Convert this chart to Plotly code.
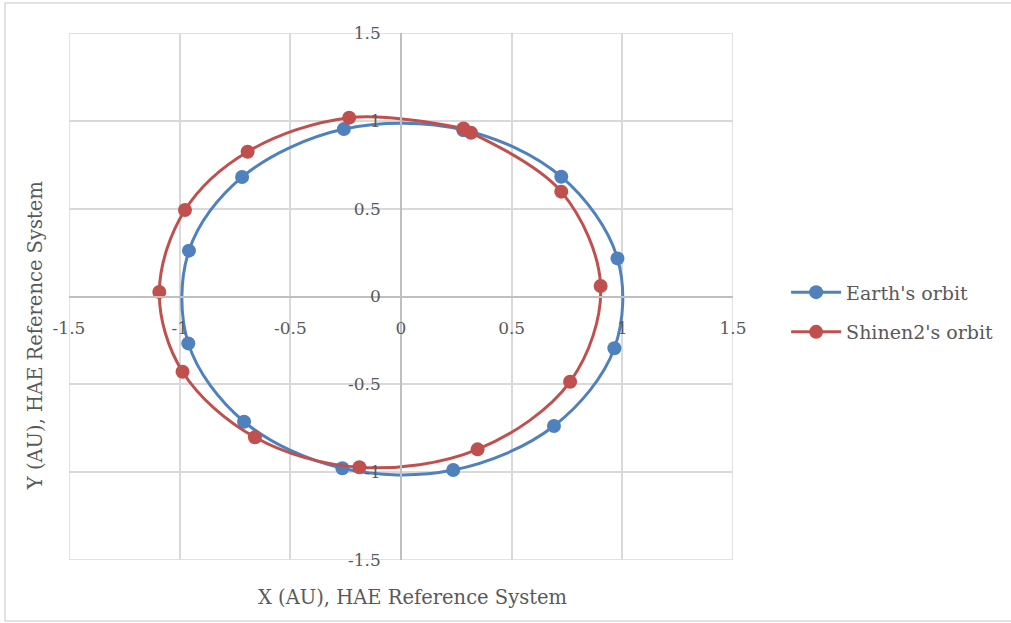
import plotly.graph_objects as go

# Earth's orbit (AU, HAE), closed loop
earth_x = [0.282, -0.258, -0.718, -0.958, -0.961, -0.709, -0.265, 0.236, 0.691, 0.964, 0.978, 0.724, 0.282]
earth_y = [0.948, 0.953, 0.680, 0.261, -0.267, -0.713, -0.978, -0.988, -0.737, -0.295, 0.217, 0.682, 0.948]

# Shinen2's orbit (AU, HAE)
shinen_x = [0.282, -0.234, -0.693, -0.976, -1.092, -0.987, -0.660, -0.188, 0.346, 0.764, 0.902, 0.724, 0.316]
shinen_y = [0.957, 1.018, 0.824, 0.492, 0.026, -0.428, -0.801, -0.972, -0.870, -0.485, 0.060, 0.597, 0.932]

tick_vals = [-1.5, -1, -0.5, 0, 0.5, 1, 1.5]
tick_text = ["-1.5", "-1", "-0.5", "0", "0.5", "1", "1.5"]

BLUE = "#4f81bd"
RED = "#c0504d"
GRID = "#d9d9d9"
TXT = "#595959"
FONT = "DejaVu Serif"

fig = go.Figure()

fig.add_trace(go.Scatter(x=earth_x, y=earth_y, mode="lines+markers",
                         line=dict(color=BLUE, width=3, shape="spline", smoothing=1),
                         marker=dict(color=BLUE, size=14),
                         name="Earth's orbit", legendgroup="e"))
fig.add_trace(go.Scatter(x=shinen_x, y=shinen_y, mode="lines+markers",
                         line=dict(color=RED, width=3, shape="spline", smoothing=1),
                         marker=dict(color=RED, size=14),
                         name="Shinen2's orbit", legendgroup="s"))

axis_common = dict(
    range=[-1.5, 1.5], tickvals=tick_vals, ticktext=tick_text,
    showgrid=True, gridcolor=GRID, gridwidth=1.5,
    zeroline=False, showline=True, linecolor="#bfbfbf", linewidth=1.5,
    ticks="outside", ticklen=16, tickcolor="rgba(0,0,0,0)",
    tickfont=dict(family=FONT, size=17, color=TXT),
    anchor="free", position=0.5, fixedrange=True,
)

fig.update_layout(
    width=1011, height=623,
    margin=dict(l=69, r=278, t=33, b=63),
    paper_bgcolor="white", plot_bgcolor="white",
    xaxis=axis_common,
    yaxis=axis_common,
    showlegend=True,
    legend=dict(x=1.08, y=0.47, xanchor="left", yanchor="middle",
                font=dict(family=FONT, size=19, color=TXT),
                itemwidth=50, tracegroupgap=12, bgcolor="rgba(0,0,0,0)"),
    shapes=[
        # plot area box
        dict(type="rect", xref="x", yref="y", x0=-1.5, x1=1.5, y0=-1.5, y1=1.5,
             line=dict(color=GRID, width=1.5), layer="below"),
        # outer chart border (right side runs off the page, as in the original)
        dict(type="rect", xref="paper", yref="paper", x0=-0.0964, x1=1.6, y0=-0.1157, y1=1.0569,
             line=dict(color=GRID, width=1.5), layer="below"),
    ],
    annotations=[
        dict(text="X (AU), HAE Reference System", xref="paper", yref="paper",
             x=0.518, y=-0.072, xanchor="center", yanchor="middle", showarrow=False,
             font=dict(family=FONT, size=19.5, color=TXT)),
        dict(text="Y (AU), HAE Reference System", xref="paper", yref="paper",
             x=-0.051, y=0.425, xanchor="center", yanchor="middle", showarrow=False,
             textangle=-90, font=dict(family=FONT, size=19.5, color=TXT)),
    ],
)

# drop the default page margin so the chart sits at the window's corner
fig.write_html("out.html", config={"displayModeBar": False},
               post_script="document.body.style.margin='0';")
